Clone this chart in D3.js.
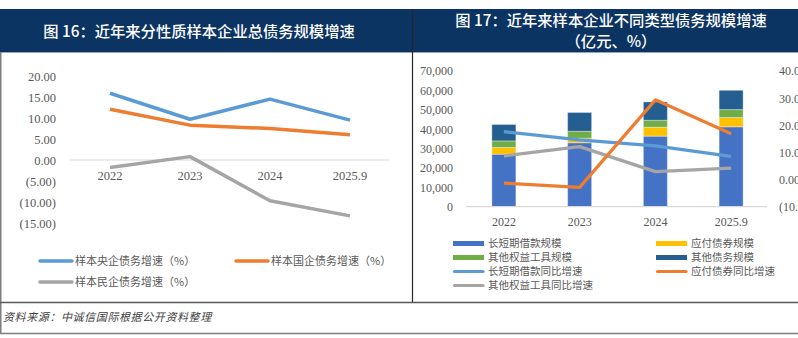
<!DOCTYPE html>
<html>
<head>
<meta charset="utf-8">
<script src="https://cdn.jsdelivr.net/npm/d3@7"></script>
<style>
  body { margin: 0; background: #fff; }
  svg { display: block; }
  .tick-label { font-family: "Liberation Serif", "Noto Sans CJK SC", serif; fill: #595959; }
  .cn { font-family: "Noto Sans CJK SC", "Liberation Serif", serif; }
</style>
</head>
<body>
<div id="chart"></div>
<script>
// left panel: growth by ownership type (%)
var years = ["2022", "2023", "2024", "2025.9"];
var centralGrowth = [15.9, 9.7, 14.5, 9.5];
var stateGrowth = [12.1, 8.3, 7.5, 6.0];
var privateGrowth = [-1.8, 0.8, -9.7, -13.3];
var leftTicks = [20, 15, 10, 5, 0, -5, -10, -15];

// right panel: debt scale by type (亿元) and growth (%)
var loans = [27100, 33000, 36400, 41200];
var payables = [3450, 2300, 4600, 4800];
var otherEquity = [3400, 3600, 3600, 4100];
var otherDebt = [8450, 9700, 9450, 9950];
var loansGrowth = [17.7, 14.7, 12.5, 8.6];
var bondsGrowth = [-1.2, -2.8, 29.4, 16.9];
var equityGrowth = [8.8, 12.2, 3.0, 4.3];
var barTicks = [0, 10000, 20000, 30000, 40000, 50000, 60000, 70000];
var rateTicks = [-10, 0, 10, 20, 30, 40];

var W = 798, H = 338;
var svg = d3.select("#chart").append("svg")
    .attr("width", W)
    .attr("height", H);

function paren(v, digits) {
  var s = d3.format("," + "." + digits + "f")(Math.abs(v));
  return v < 0 ? "(" + s + ")" : s;
}

// header band
svg.append("rect").attr("x", 0).attr("y", 9).attr("width", W).attr("height", 43).attr("fill", "#0C3463");
svg.append("line").attr("x1", 0).attr("x2", W).attr("y1", 52.5).attr("y2", 52.5)
    .style("stroke", "#8EA9C8").style("stroke-width", 1);

var titleFont = 15.3;
svg.append("text").attr("class", "cn")
    .attr("x", 199).attr("y", 31).attr("dy", "0.36em")
    .attr("text-anchor", "middle")
    .style("font-size", titleFont + "px").style("font-weight", 500).style("fill", "#fff")
    .text("图 16：近年来分性质样本企业总债务规模增速");
svg.append("text").attr("class", "cn")
    .attr("x", 611).attr("y", 20.5).attr("dy", "0.36em")
    .attr("text-anchor", "middle")
    .style("font-size", titleFont + "px").style("font-weight", 500).style("fill", "#fff")
    .text("图 17：近年来样本企业不同类型债务规模增速");
svg.append("text").attr("class", "cn")
    .attr("x", 611).attr("y", 41.5).attr("dy", "0.36em")
    .attr("text-anchor", "middle")
    .style("font-size", titleFont + "px").style("font-weight", 500).style("fill", "#fff")
    .text("（亿元、%）");

// frame lines
svg.append("line").attr("x1", 0.75).attr("x2", 0.75).attr("y1", 52).attr("y2", 334)
    .style("stroke", "#7F7F7F").style("stroke-width", 1.5);
svg.append("line").attr("x1", 412.5).attr("x2", 412.5).attr("y1", 9).attr("y2", 302)
    .style("stroke", "#262626").style("stroke-width", 1.2);
svg.append("line").attr("x1", 0).attr("x2", W).attr("y1", 302.5).attr("y2", 302.5)
    .style("stroke", "#595959").style("stroke-width", 1.3);
svg.append("line").attr("x1", 0).attr("x2", W).attr("y1", 333.5).attr("y2", 333.5)
    .style("stroke", "#7F7F7F").style("stroke-width", 1.3);

svg.append("text").attr("class", "cn")
    .attr("x", 3).attr("y", 317).attr("dy", "0.36em")
    .style("font-size", "11px").style("font-style", "italic").style("fill", "#404040")
    .style("letter-spacing", "0.6px")
    .text("资料来源：中诚信国际根据公开资料整理");

// ---------- left chart ----------
var xL = d3.scaleBand().domain(years).range([70, 390]);
var yL = d3.scaleLinear().domain([-15, 20]).range([223, 76]);

var gL = svg.append("g");
gL.append("line").attr("x1", 70).attr("x2", 389).attr("y1", yL(0)).attr("y2", yL(0))
    .style("stroke", "#D9D9D9").style("stroke-width", 1.2);

gL.append("g")
    .attr("transform", "translate(56,0)")
    .call(d3.axisLeft(yL).tickValues(leftTicks).tickSize(0).tickPadding(0)
      .tickFormat(function(d) { return paren(d, 2); }))
    .call(function(g) { g.select(".domain").remove(); })
    .selectAll("text").attr("class", "tick-label").style("font-size", "12.5px");

gL.selectAll(".xlab").data(years).enter().append("text")
    .attr("class", "tick-label xlab")
    .attr("x", function(d) { return xL(d) + xL.bandwidth() / 2; })
    .attr("y", 176).attr("dy", "0.35em")
    .attr("text-anchor", "middle")
    .style("font-size", "12.5px")
    .text(function(d) { return d; });

var leftSeries = [
  { name: "样本央企债务增速（%）", values: centralGrowth, color: "#5B9BD5" },
  { name: "样本国企债务增速（%）", values: stateGrowth, color: "#ED7D31" },
  { name: "样本民企债务增速（%）", values: privateGrowth, color: "#A5A5A5" }
];
var lineL = d3.line()
    .x(function(d, i) { return xL(years[i]) + xL.bandwidth() / 2; })
    .y(function(d) { return yL(d); });

gL.selectAll(".series").data(leftSeries).enter().append("path")
    .attr("d", function(d) { return lineL(d.values); })
    .style("fill", "none")
    .style("stroke", function(d) { return d.color; })
    .style("stroke-width", 3.5)
    .style("stroke-linejoin", "round");

var legL = [[40, 261], [236, 261], [40, 282]];
leftSeries.forEach(function(s, i) {
  var p = legL[i];
  gL.append("line").attr("x1", p[0]).attr("x2", p[0] + 32).attr("y1", p[1]).attr("y2", p[1])
      .style("stroke", s.color).style("stroke-width", 3.5).style("stroke-linecap", "round");
  gL.append("text").attr("class", "cn")
      .attr("x", p[0] + 35).attr("y", p[1]).attr("dy", "0.36em")
      .style("font-size", "11px").style("fill", "#595959")
      .text(s.name);
});

// ---------- right chart ----------
var xR = d3.scaleBand().domain(years).range([466, 769]);
var yBar = d3.scaleLinear().domain([0, 70000]).range([206.7, 71]);
var yRate = d3.scaleLinear().domain([-10, 40]).range([207, 71]);

var gR = svg.append("g");

gR.append("g")
    .attr("transform", "translate(453,0)")
    .call(d3.axisLeft(yBar).tickValues(barTicks).tickSize(0).tickPadding(0)
      .tickFormat(d3.format(",")))
    .call(function(g) { g.select(".domain").remove(); })
    .selectAll("text").attr("class", "tick-label").style("font-size", "12px");

gR.append("g")
    .attr("transform", "translate(779,0)")
    .call(d3.axisRight(yRate).tickValues(rateTicks).tickSize(0).tickPadding(0)
      .tickFormat(function(d) { return paren(d, 2); }))
    .call(function(g) { g.select(".domain").remove(); })
    .selectAll("text").attr("class", "tick-label").style("font-size", "12px");

var barSeries = [
  { name: "长短期借款规模", values: loans, color: "#4472C4" },
  { name: "应付债券规模", values: payables, color: "#FFC000" },
  { name: "其他权益工具规模", values: otherEquity, color: "#70AD47" },
  { name: "其他债务规模", values: otherDebt, color: "#255E91" }
];
var table = years.map(function(y, i) {
  var row = { year: y };
  barSeries.forEach(function(s) { row[s.name] = s.values[i]; });
  return row;
});
var stacked = d3.stack().keys(barSeries.map(function(s) { return s.name; }))(table);
var barW = 24;

gR.selectAll(".layer").data(stacked).enter().append("g")
    .style("fill", function(d, i) { return barSeries[i].color; })
  .selectAll("rect").data(function(d) { return d; }).enter().append("rect")
    .attr("x", function(d) { return xR(d.data.year) + xR.bandwidth() / 2 - barW / 2; })
    .attr("y", function(d) { return yBar(d[1]); })
    .attr("width", barW)
    .attr("height", function(d) { return yBar(d[0]) - yBar(d[1]); })
    .style("stroke", "#ffffff").style("stroke-opacity", 0.35).style("stroke-width", 1);

gR.append("line").attr("x1", 466).attr("x2", 767).attr("y1", yBar(0)).attr("y2", yBar(0))
    .style("stroke", "#D9D9D9").style("stroke-width", 1.2);

gR.selectAll(".xlab").data(years).enter().append("text")
    .attr("class", "tick-label xlab")
    .attr("x", function(d) { return xR(d) + xR.bandwidth() / 2; })
    .attr("y", 221.5).attr("dy", "0.35em")
    .attr("text-anchor", "middle")
    .style("font-size", "12px")
    .text(function(d) { return d; });

var rateSeries = [
  { name: "长短期借款同比增速", values: loansGrowth, color: "#5B9BD5" },
  { name: "应付债券同比增速", values: bondsGrowth, color: "#ED7D31" },
  { name: "其他权益工具同比增速", values: equityGrowth, color: "#A5A5A5" }
];
var lineR = d3.line()
    .x(function(d, i) { return xR(years[i]) + xR.bandwidth() / 2; })
    .y(function(d) { return yRate(d); });

// grey first so blue and orange sit above it
[rateSeries[2], rateSeries[0], rateSeries[1]].forEach(function(s) {
  gR.append("path")
      .attr("d", lineR(s.values))
      .style("fill", "none")
      .style("stroke", s.color)
      .style("stroke-width", 3.2)
      .style("stroke-linejoin", "round");
});

var legendR = [
  { item: barSeries[0], bar: true, x: 453, y: 243.5 },
  { item: barSeries[1], bar: true, x: 656, y: 243.5 },
  { item: barSeries[2], bar: true, x: 453, y: 257.5 },
  { item: barSeries[3], bar: true, x: 656, y: 257.5 },
  { item: rateSeries[0], bar: false, x: 453, y: 271.5 },
  { item: rateSeries[1], bar: false, x: 656, y: 271.5 },
  { item: rateSeries[2], bar: false, x: 453, y: 285.5 }
];
legendR.forEach(function(l) {
  if (l.bar) {
    gR.append("rect").attr("x", l.x).attr("y", l.y - 2.5).attr("width", 31).attr("height", 5)
        .style("fill", l.item.color);
  } else {
    gR.append("line").attr("x1", l.x + 1.5).attr("x2", l.x + 30).attr("y1", l.y).attr("y2", l.y)
        .style("stroke", l.item.color).style("stroke-width", 3.2).style("stroke-linecap", "round");
  }
  gR.append("text").attr("class", "cn")
      .attr("x", l.x + 35).attr("y", l.y).attr("dy", "0.36em")
      .style("font-size", "10.5px").style("fill", "#595959")
      .text(l.item.name);
});
</script>
</body>
</html>
